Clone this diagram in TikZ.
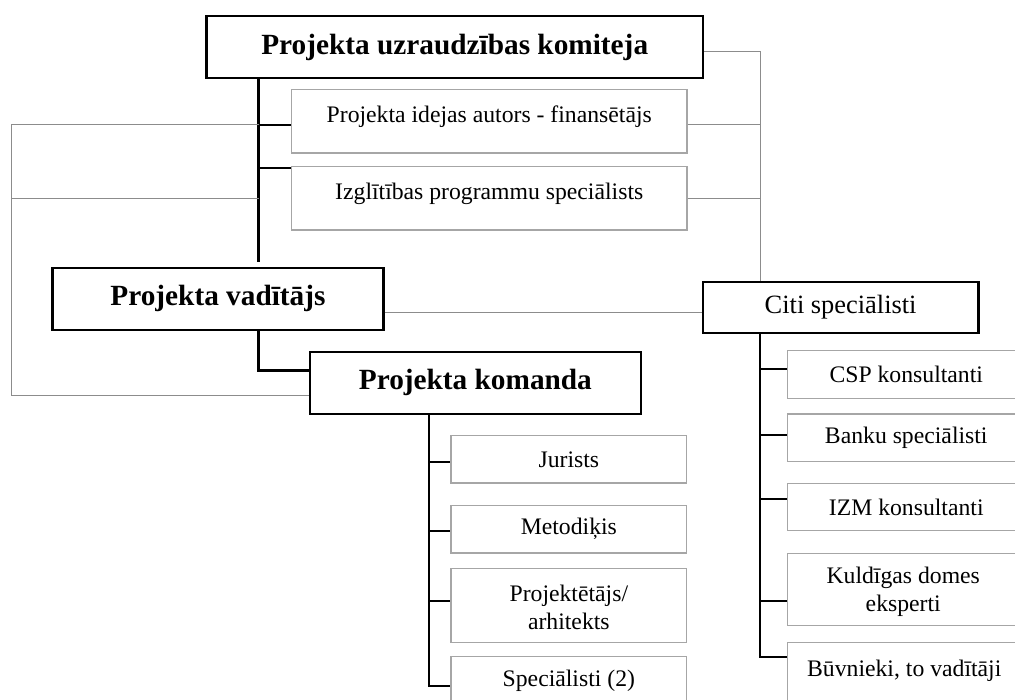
\documentclass[tikz,border=0pt]{standalone}
\usepackage{fontspec}
\setmainfont{Liberation Serif}
\newcommand{\bigbold}{\fontsize{29.3}{35}\selectfont\bfseries}
\newcommand{\midfont}{\fontsize{26.4}{31}\selectfont}
\newcommand{\regfont}{\fontsize{23.7}{28}\selectfont}
\tikzset{
  mainbox/.style={draw=black, line width=2.2pt, inner sep=0pt, font=\bigbold},
  citibox/.style={draw=black, line width=2.2pt, inner sep=0pt, font=\midfont},
  subbox/.style={draw=black!35, line width=1.2pt, inner sep=0pt, font=\regfont, align=center},
  txt/.style={inner sep=0pt, font=\regfont, align=center},
  thickline/.style={draw=black, line width=3.2pt},
  branch/.style={draw=black, line width=2pt},
  grayline/.style={draw=black!45, line width=1pt},
}
\begin{document}
\begin{tikzpicture}[x=1pt,y=-1pt]
\clip (0,0) rectangle (1015,700);
\fill[white] (0,0) rectangle (1015,700);

% main boxes
\node[mainbox, minimum width=496.5pt, minimum height=62.6pt] (top) at (454.75,47) {Projekta uzraudzības komiteja};
\node[mainbox, minimum width=331pt, minimum height=62.3pt] (pv) at (218,298.85) {Projekta vadītājs};
\node[mainbox, minimum width=330.8pt, minimum height=62.3pt] (pk) at (475.4,382.85) {Projekta komanda};
\node[citibox, minimum width=275.8pt, minimum height=51.6pt] (citi) at (840.6,307.5) {Citi speciālisti};

% committee sub boxes
\node[subbox, minimum width=395.5pt, minimum height=63.3pt] (idea) at (489.25,121.35) {};
\node[txt] (ideat) at ([yshift=5pt]idea.center) {Projekta idejas autors - finansētājs};
\node[subbox, minimum width=395.5pt, minimum height=63.3pt] (izgl) at (489.25,198.35) {};
\node[txt] (izglt) at ([yshift=5pt]izgl.center) {Izglītības programmu speciālists};

% team sub boxes
\node[subbox, minimum width=235.7pt, minimum height=47.3pt] (jur) at (568.85,459.35) {Jurists};
\node[subbox, minimum width=235.7pt, minimum height=47.7pt] (met) at (568.85,529.15) {Metodiķis};
\node[subbox, minimum width=235.7pt, minimum height=73.6pt] (proj) at (568.85,605.5) {};
\node[txt] (projt) at ([yshift=-2pt]proj.center) {Projektētājs/\\arhitekts};
\node[subbox, minimum width=235.7pt, minimum height=47.3pt] (spec) at (568.85,680.35) {Speciālisti (2)};

% other specialists sub boxes
\node[subbox, minimum width=237.5pt, minimum height=47.6pt] (csp) at (906.25,374.5) {CSP konsultanti};
\node[subbox, minimum width=237.5pt, minimum height=47.7pt] (banku) at (906.25,437.85) {Banku speciālisti};
\node[subbox, minimum width=237.5pt, minimum height=47.4pt] (izm) at (906.25,507) {IZM konsultanti};
\node[subbox, minimum width=237.5pt, minimum height=72.4pt] (kuld) at (906.25,589.5) {};
\node[txt] (kuldt) at ([xshift=-3pt,yshift=-2pt]kuld.center) {Kuldīgas domes\\eksperti};
\node[subbox, minimum width=237.5pt, minimum height=72pt] (buv) at (906.25,678.7) {};
\node[txt] (buvt) at ([xshift=-2pt,yshift=8pt]buv.center) {Būvnieki, to vadītāji};

% committee spine
\coordinate (tk) at (258.7,262);
\coordinate (j1) at (258.7,125);
\coordinate (j2) at (258.7,167.7);
\coordinate (j3) at (258.7,199);
\draw[thickline] (top.south -| tk) -- (tk);
\draw[branch] (j1) -- (j1 -| idea.west);
\draw[branch] (j2) -- (j2 -| izgl.west);

% left gray loop
\coordinate (L1) at (11,125);
\coordinate (L2) at (11,199);
\coordinate (L3) at (11,395.3);
\draw[grayline] (j1) -- (L1) -- (L3) -- (L3 -| pk.west);
\draw[grayline] (j3) -- (L2);

% right gray links
\coordinate (R0) at (760.5,51.7);
\coordinate (R1) at (760.5,124.7);
\coordinate (R2) at (760.5,199);
\draw[grayline] (R0 -| top.east) -- (R0) -- (R0 |- citi.north);
\draw[grayline] (R1 -| idea.east) -- (R1);
\draw[grayline] (R2 -| izgl.east) -- (R2);
\coordinate (M) at (560,312.3);
\draw[grayline] (M -| pv.east) -- (M -| citi.west);

% manager to team
\coordinate (K) at (258.7,370.7);
\draw[thickline] (pv.south -| K) -- (K) -- (K -| pk.west);

% team spine
\coordinate (P0) at (428.5,461.7);
\coordinate (P1) at (428.5,530.7);
\coordinate (P2) at (428.5,600.7);
\coordinate (P3) at (428.5,685.7);
\draw[branch] (pk.south -| P3) -- (P3) -- (P3 -| spec.west);
\draw[branch] (P0) -- (P0 -| jur.west);
\draw[branch] (P1) -- (P1 -| met.west);
\draw[branch] (P2) -- (P2 -| proj.west);

% other specialists spine
\coordinate (C0) at (760,369.3);
\coordinate (C1) at (760,435);
\coordinate (C2) at (760,499);
\coordinate (C3) at (760,600.7);
\coordinate (C4) at (760,656.7);
\draw[branch] (citi.south -| C4) -- (C4) -- (C4 -| buv.west);
\draw[branch] (C0) -- (C0 -| csp.west);
\draw[branch] (C1) -- (C1 -| banku.west);
\draw[branch] (C2) -- (C2 -| izm.west);
\draw[branch] (C3) -- (C3 -| kuld.west);
\end{tikzpicture}
\end{document}
